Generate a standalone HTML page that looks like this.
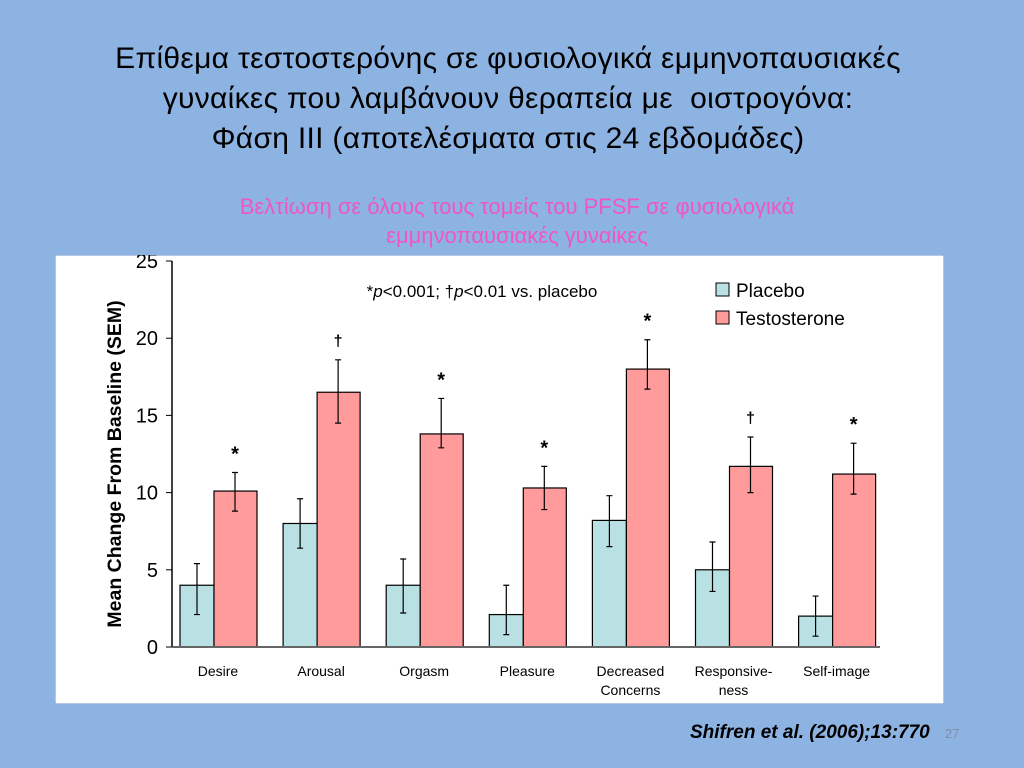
<!DOCTYPE html>
<html><head><meta charset="utf-8">
<style>
body{margin:0;width:1024px;height:768px;background:#8db3e2;font-family:"Liberation Sans","DejaVu Sans",sans-serif;position:relative;overflow:hidden}
.t{position:absolute;left:0;width:1016px;text-align:center;color:#000;font-size:30px;line-height:40px;top:39px;letter-spacing:0.3px}
.s{position:absolute;left:0;width:1034px;text-align:center;color:#f055c8;font-size:22px;line-height:29px;top:192px}
#chart{position:absolute;left:55px;top:255px}
.cite{position:absolute;left:690px;top:722px;font-size:19px;font-weight:bold;font-style:italic;color:#000}
.pn{position:absolute;left:945px;top:726px;font-size:13px;color:#7f8fa6}
</style></head><body>
<div class="t">Επίθεμα τεστοστερόνης σε φυσιολογικά εμμηνοπαυσιακές<br>γυναίκες που λαμβάνουν θεραπεία με&nbsp; οιστρογόνα:<br>Φάση ΙΙΙ (αποτελέσματα στις 24 εβδομάδες)</div>
<div class="s">Βελτίωση σε όλους τους τομείς του PFSF σε φυσιολογικά<br>εμμηνοπαυσιακές γυναίκες</div>
<svg id="chart" width="889" height="449" xmlns="http://www.w3.org/2000/svg">
<rect x="0" y="0" width="889" height="449" fill="#fff" stroke="#6d8fc9"/>
<g id="plot"></g>
</svg>
<div class="cite">Shifren et al. (2006);13:770</div>
<div class="pn">27</div>
<script>
const categories=["Desire","Arousal","Orgasm","Pleasure","Decreased|Concerns","Responsive-|ness","Self-image"];
const placebo=[4,8,4,2.1,8.2,5,2];
const placeboLow=[2.1,6.4,2.2,0.8,6.5,3.6,0.7];
const placeboHigh=[5.4,9.6,5.7,4.0,9.8,6.8,3.3];
const testo=[10.1,16.5,13.8,10.3,18,11.7,11.2];
const testoLow=[8.8,14.5,12.9,8.9,16.7,10.0,9.9];
const testoHigh=[11.3,18.6,16.1,11.7,19.9,13.6,13.2];
const sig=["*","†","*","*","*","†","*"];
const yTicks=[0,5,10,15,20,25];
const NS="http://www.w3.org/2000/svg";
const g=document.getElementById('plot');
const OX=-55,OY=-255;
const y=v=>647+OY-v*15.44;
const gx=i=>180+OX+i*103.1;
function mk(tag,attrs){const e=document.createElementNS(NS,tag);for(const k in attrs)e.setAttribute(k,attrs[k]);g.appendChild(e);return e;}
let ax=mk('line',{x1:172+OX,y1:y(25),x2:172+OX,y2:y(0),stroke:'#000','stroke-width':1.5});


yTicks.forEach(t=>{
 let l=mk('line',{x1:166+OX,x2:172+OX,y1:y(t),y2:y(t),stroke:'#000'});
 
 
 let tx=mk('text',{x:158+OX,y:y(t)+7,'text-anchor':'end','font-size':20,fill:'#000'});
 tx.textContent=t;
 
 
});
let yt=mk('text',{transform:`translate(${121+OX},${464+OY}) rotate(-90)`,'text-anchor':'middle','font-size':19.5,'font-weight':'bold',fill:'#000'});
yt.textContent='Mean Change From Baseline (SEM)';


function err(cx,lo,hi){
 let e=mk('path',{d:`M${cx},${y(lo)}V${y(hi)}M${cx-3},${y(lo)}h6M${cx-3},${y(hi)}h6`,stroke:'#000','stroke-width':1.2,fill:'none'});
 
 
}
categories.forEach((c,i)=>{
 const x0=gx(i);
 let b1=mk('rect',{x:x0,y:y(placebo[i]),width:34,height:y(0)-y(placebo[i]),fill:'#b9e0e2',stroke:'#000','stroke-width':1.2});
 
 
 let b2=mk('rect',{x:x0+34,y:y(testo[i]),width:43,height:y(0)-y(testo[i]),fill:'#ff9b9b',stroke:'#000','stroke-width':1.2});
 
 
 err(x0+17,placeboLow[i],placeboHigh[i]);
 err(x0+55,testoLow[i],testoHigh[i]);
 let s=mk('text',{x:x0+55,y:y(testoHigh[i])-(sig[i]=='*'?12:14),'text-anchor':'middle','font-size':sig[i]=='*'?20:16,'font-weight':'bold',fill:'#000'});
 s.textContent=sig[i];
 
 
 c.split('|').forEach((ln,j)=>{
  let t=mk('text',{x:x0+38,y:676+OY+j*19,'text-anchor':'middle','font-size':14,fill:'#000'});
  t.textContent=ln;
  
  
 });
});
let xa=mk('line',{x1:172+OX,x2:880+OX,y1:y(0),y2:y(0),stroke:'#666','stroke-width':2});


let note=mk('text',{x:482+OX,y:297+OY,'text-anchor':'middle','font-size':17,fill:'#000'});
note.innerHTML='*<tspan font-style="italic">p</tspan>&lt;0.001; †<tspan font-style="italic">p</tspan>&lt;0.01 vs. placebo';


[["Placebo","#b9e0e2",290],["Testosterone","#ff9b9b",318]].forEach(([n,c,yy])=>{
 let r=mk('rect',{x:716+OX,y:yy-7+OY,width:13,height:13,fill:c,stroke:'#000'});
 
 
 let t=mk('text',{x:736+OX,y:yy+7+OY,'font-size':19,fill:'#000'});
 t.textContent=n;
 
 
});
</script>
</body></html>
